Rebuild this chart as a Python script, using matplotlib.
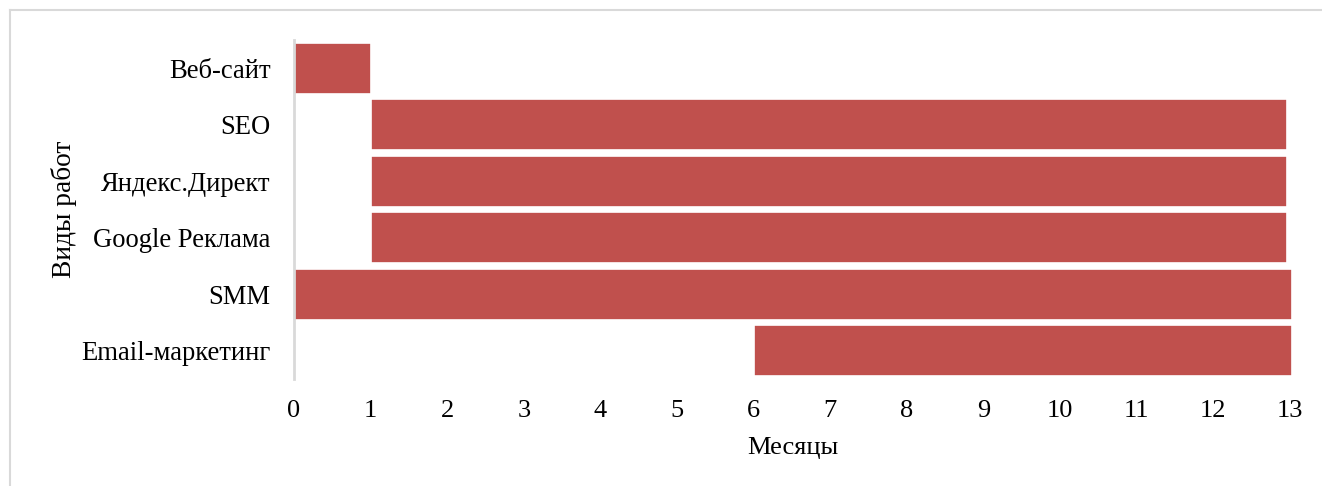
import matplotlib
matplotlib.use("Agg")
import matplotlib.pyplot as plt
from matplotlib.lines import Line2D

plt.rcParams['font.family'] = ['Liberation Serif', 'DejaVu Serif']

tasks = ["Веб-сайт", "SEO", "Яндекс.Директ", "Google Реклама", "SMM", "Email-маркетинг"]
start_month = [0, 1, 1, 1, 0, 6]
end_month = [1, 12.97, 12.97, 12.97, 13.03, 13.03]
x_ticks = list(range(0, 14))

W, H = 1322, 486
fig = plt.figure(figsize=(W / 100, H / 100), dpi=100)
ax = fig.add_axes([294 / W, 1 - 379 / H, (1292 - 294) / W, (379 - 40) / H])

durations = [e - s for s, e in zip(start_month, end_month)]
ax.barh(range(len(tasks)), durations, left=start_month, height=0.91,
        color="#C0504D", edgecolor="white", linewidth=1.2)

ax.set_xlim(0, 13.03)
ax.set_ylim(len(tasks) - 0.5, -0.5)
ax.set_yticks(range(len(tasks)))
ax.set_yticklabels(tasks, fontsize=19.2)
ax.set_xticks(x_ticks)
ax.set_xticklabels([str(t) for t in x_ticks], fontsize=19)
ax.tick_params(axis='both', length=0)
ax.tick_params(axis='y', pad=17)
ax.tick_params(axis='x', pad=15)

for side in ("top", "right", "bottom"):
    ax.spines[side].set_visible(False)
ax.spines["left"].set_color("#d9d9d9")
ax.spines["left"].set_linewidth(2)

ax.set_xlabel("Месяцы", fontsize=19, labelpad=11)
ax.set_ylabel("Виды работ", fontsize=19.7, labelpad=3)

# outer frame (top and left edges)
fig.add_artist(Line2D([9.5 / W, 9.5 / W], [0, 1 - 10.5 / H], color="#d9d9d9", lw=1.5,
                      transform=fig.transFigure))
fig.add_artist(Line2D([9.5 / W, 1], [1 - 10.5 / H, 1 - 10.5 / H], color="#d9d9d9", lw=1.5,
                      transform=fig.transFigure))

fig.savefig("out.png", dpi=100)
